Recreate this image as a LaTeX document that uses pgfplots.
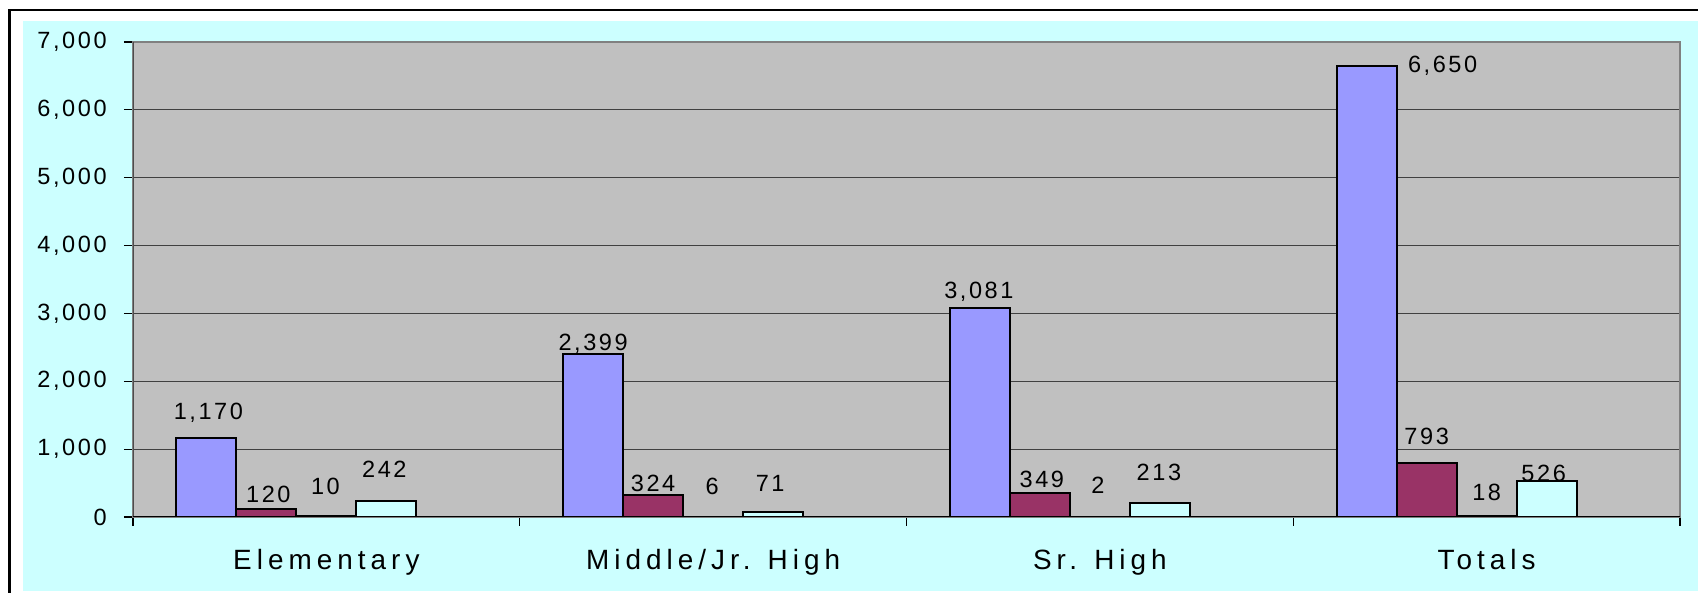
\documentclass[border=0pt]{standalone}
\usepackage{fontspec}
\setmainfont{Liberation Sans}
\newfontfamily\numfont[LetterSpace=11]{Liberation Sans}
\newfontfamily\catfont[LetterSpace=18]{Liberation Sans}
\usepackage{xcolor}
\usepackage{pgfplots}
\usepackage{pgfplotstable}
\pgfplotsset{compat=1.18}
\definecolor{bgcyan}{HTML}{CCFFFF}
\definecolor{plotgray}{HTML}{C0C0C0}
\definecolor{serA}{HTML}{9999FF}
\definecolor{serB}{HTML}{993366}
\definecolor{serC}{HTML}{FFFFCC}
\definecolor{serD}{HTML}{CCFFFF}

% x = category, y = value, dy/dx = label offsets in px
\pgfplotstableread{
x y dy dx
0 1170 18 2
1 2399 4 0
2 3081 9 -1
3 6650 -7 76
}\serAtab
\pgfplotstableread{
x y dy dx
0 120 6 2
1 324 4 0
2 349 6 2
3 793 19 0
}\serBtab
\pgfplotstableread{
x y dy dx
0 10 22 -1
1 6 22 -1
2 2 23 -2
3 18 15 0
}\serCtab
\pgfplotstableread{
x y dy dx
0 242 23 -2
1 71 21 -3
2 213 22 -1
3 526 0 -3
}\serDtab

\begin{document}
\begin{tikzpicture}
  % image is 1698 x 593 px, 1 px = 0.5bp, origin bottom left
  \path[use as bounding box,fill=white] (0bp,0bp) rectangle (849bp,296.5bp);
  \fill[bgcyan] (11.5bp,1bp) rectangle (849bp,286bp);
  \draw[black,line width=1.2bp] (4.75bp,0bp) -- (4.75bp,291.5bp) -- (849bp,291.5bp);

  \begin{axis}[
    at={(66.5bp,38bp)}, anchor=south west,
    scale only axis, width=773.5bp, height=237.5bp,
    xmin=-0.5, xmax=3.5, ymin=0, ymax=7000,
    ybar, bar width=30bp,
    axis background/.style={fill=plotgray},
    axis line style={draw=gray, line width=1bp},
    xtick={0,1,2,3},
    xticklabels={Elementary,Middle/Jr. High,Sr. High,Totals},
    minor xtick={-0.5,0.5,1.5,2.5,3.5},
    ytick={0,1000,...,7000},
    tick align=outside,
    major tick length=4.5bp, minor tick length=4.5bp,
    major x tick style={draw=none},
    minor x tick style={black, line width=0.6bp},
    major y tick style={black, line width=0.6bp},
    xtick pos=bottom, ytick pos=left,
    ymajorgrids,
    grid style={black!75, line width=0.6bp},
    /pgf/number format/.cd, fixed, 1000 sep={,}, assume math mode=true,
    /pgfplots/.cd,
    yticklabel style={font=\numfont\fontsize{11.8}{14}\selectfont, anchor=east, inner sep=0pt, xshift=-8.5bp},
    xticklabel style={font=\catfont\fontsize{14}{17}\selectfont, anchor=base, inner sep=0pt, yshift=-21.5bp},
    visualization depends on={\thisrow{dy} \as \labdy},
    visualization depends on={\thisrow{dx} \as \labdx},
    nodes near coords={\pgfmathprintnumber{\pgfplotspointmeta}},
    every node near coord/.append style={font=\numfont\fontsize{11.8}{14}\selectfont,
      anchor=base, inner sep=0pt, text=black,
      xshift=\labdx*0.5bp, yshift=\labdy*0.5bp},
  ]
    \addplot[fill=serA, draw=black, line width=1bp, bar shift=-60bp] table[x=x,y=y] {\serAtab};
    \addplot[fill=serB, draw=black, line width=1bp, bar shift=-30bp] table[x=x,y=y] {\serBtab};
    \addplot[fill=serC, draw=black, line width=1bp, bar shift=0bp] table[x=x,y=y] {\serCtab};
    \addplot[fill=serD, draw=black, line width=1bp, bar shift=30bp] table[x=x,y=y] {\serDtab};
    \draw[black!70, line width=1bp] (rel axis cs:0,0) -- (rel axis cs:0,1);
    \draw[black, line width=0.6bp] (rel axis cs:0,0) -- (rel axis cs:1,0);
  \end{axis}
\end{tikzpicture}
\end{document}
